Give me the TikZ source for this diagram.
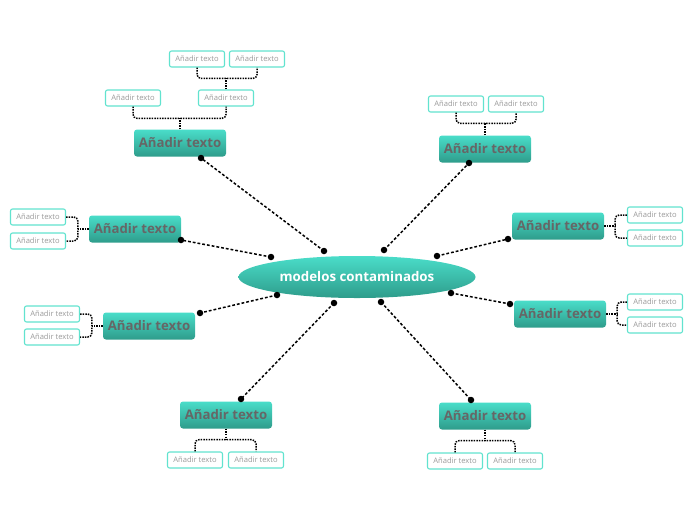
\documentclass[tikz,border=0pt]{standalone}
\usepackage{fontspec}
\setmainfont{Open Sans}
\usetikzlibrary{calc,shapes.geometric}
\definecolor{ctop}{HTML}{4ADDC9}
\definecolor{cbot}{HTML}{2E9C8B}
\definecolor{sborder}{HTML}{62E3CF}
\definecolor{mtext}{HTML}{666666}
\definecolor{stext}{HTML}{9A9A9A}
\tikzset{
  mainbox/.style={rectangle, rounded corners=3pt, top color=ctop, bottom color=cbot,
    minimum width=92pt, minimum height=27pt, inner sep=0pt,
    font=\fontsize{13.2}{15}\selectfont\bfseries, text=mtext},
  subbox/.style={rectangle, rounded corners=2pt, draw=sborder, line width=1.1pt, fill=white,
    minimum width=55pt, minimum height=16pt, inner sep=0pt,
    font=\fontsize{7.6}{8}\selectfont, text=stext},
  centre/.style={ellipse, top color=ctop, bottom color=cbot, minimum width=237pt,
    minimum height=42pt, inner sep=0pt, font=\fontsize{13.3}{15}\selectfont\bfseries, text=white},
  conn/.style={line width=1.5pt, dash pattern=on 2.8pt off 2pt, black},
  br/.style={line width=1.5pt, dash pattern=on 1.5pt off 1.1pt, black, rounded corners=4pt},
  dotmark/.style={fill=black, circle, inner sep=0pt, minimum size=6.5pt}
}
\begin{document}
\begin{tikzpicture}[x=1pt,y=-1pt]
\useasboundingbox (0,0) rectangle (696,520);
\node[centre] (c) at (357,277) {modelos contaminados};
% main topics
\node[mainbox] (m1) at (180,143) {Añadir texto};
\node[mainbox] (m2) at (485,149) {Añadir texto};
\node[mainbox] (m3) at (135,229) {Añadir texto};
\node[mainbox] (m4) at (558,226) {Añadir texto};
\node[mainbox] (m5) at (149,326) {Añadir texto};
\node[mainbox] (m6) at (560,314) {Añadir texto};
\node[mainbox] (m7) at (226,415) {Añadir texto};
\node[mainbox] (m8) at (485,416) {Añadir texto};
% subtopics
\node[subbox] (s1a) at (133,98) {Añadir texto};
\node[subbox] (s1b) at (226,98) {Añadir texto};
\node[subbox] (s1c) at (197,59) {Añadir texto};
\node[subbox] (s1d) at (257,59) {Añadir texto};
\node[subbox] (s2a) at (456,104) {Añadir texto};
\node[subbox] (s2b) at (516,104) {Añadir texto};
\node[subbox] (s3a) at (38,217) {Añadir texto};
\node[subbox] (s3b) at (38,241) {Añadir texto};
\node[subbox] (s4a) at (655,215) {Añadir texto};
\node[subbox] (s4b) at (655,238) {Añadir texto};
\node[subbox] (s5a) at (52,314) {Añadir texto};
\node[subbox] (s5b) at (52,337) {Añadir texto};
\node[subbox] (s6a) at (655,302) {Añadir texto};
\node[subbox] (s6b) at (655,325) {Añadir texto};
\node[subbox] (s7a) at (195,460) {Añadir texto};
\node[subbox] (s7b) at (256,460) {Añadir texto};
\node[subbox] (s8a) at (455,461) {Añadir texto};
\node[subbox] (s8b) at (515,461) {Añadir texto};
% connector end points
\coordinate (e1) at (324,251); \coordinate (k1) at (201,158);
\coordinate (e2) at (384,250); \coordinate (k2) at (469,163);
\coordinate (e3) at (271,257); \coordinate (k3) at (181,240);
\coordinate (e4) at (437,256); \coordinate (k4) at (508,239);
\coordinate (e5) at (277,295); \coordinate (k5) at (200,313);
\coordinate (e6) at (451,293); \coordinate (k6) at (510,304);
\coordinate (e7) at (334,303); \coordinate (k7) at (241,399);
\coordinate (e8) at (381,302); \coordinate (k8) at (471,400);
\foreach \i in {1,...,8}{
  \draw[conn] (e\i) -- (k\i);
  \node[dotmark] (de\i) at (e\i) {};
  \node[dotmark] (dk\i) at (k\i) {};
}
% brackets (vertical)
\coordinate (h1) at ($(m1.north)+(0,-11)$);
\draw[br] (m1.north) -- (h1);
\draw[br] (s1a.south) |- (h1) -| (s1b.south);
\coordinate (h1b) at ($(s1b.north)+(0,-11)$);
\draw[br] (s1b.north) -- (h1b);
\draw[br] (s1c.south) |- (h1b) -| (s1d.south);
\coordinate (h2) at ($(m2.north)+(0,-12)$);
\draw[br] (m2.north) -- (h2);
\draw[br] (s2a.south) |- (h2) -| (s2b.south);
\coordinate (h7) at ($(m7.south)+(0,11)$);
\draw[br] (m7.south) -- (h7);
\draw[br] (s7a.north) |- (h7) -| (s7b.north);
\coordinate (h8) at ($(m8.south)+(0,11)$);
\draw[br] (m8.south) -- (h8);
\draw[br] (s8a.north) |- (h8) -| (s8b.north);
% brackets (horizontal)
\coordinate (h3) at ($(m3.west)+(-11,0)$);
\draw[br] (m3.west) -- (h3);
\draw[br] (s3a.east) -| (h3) |- (s3b.east);
\coordinate (h5) at ($(m5.west)+(-11,0)$);
\draw[br] (m5.west) -- (h5);
\draw[br] (s5a.east) -| (h5) |- (s5b.east);
\coordinate (h4) at ($(m4.east)+(11,0)$);
\draw[br] (m4.east) -- (h4);
\draw[br] (s4a.west) -| (h4) |- (s4b.west);
\coordinate (h6) at ($(m6.east)+(11,0)$);
\draw[br] (m6.east) -- (h6);
\draw[br] (s6a.west) -| (h6) |- (s6b.west);
\end{tikzpicture}
\end{document}
